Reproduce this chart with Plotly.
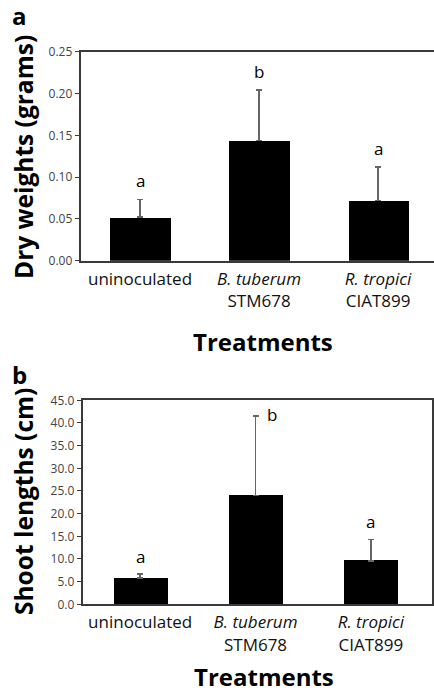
import plotly.graph_objects as go

# ---- data ----
treatments = ["uninoculated", "<i>B. tuberum</i><br>STM678", "<i>R. tropici</i><br>CIAT899"]
dry_weight = [0.052, 0.144, 0.072]
dry_weight_err = [0.021, 0.060, 0.040]
dry_letters = ["a", "b", "a"]
shoot_length = [5.8, 24.0, 9.6]
shoot_length_err = [0.9, 17.5, 4.7]
shoot_letters = ["a", "b", "a"]
dry_ticks = [0.00, 0.05, 0.10, 0.15, 0.20, 0.25]
shoot_ticks = [0, 5, 10, 15, 20, 25, 30, 35, 40, 45]

W, H = 434, 692
FONT = "Open Sans"
AX = "#3a3a3a"

def py(px):
    return 1 - px / H

fig = go.Figure()
fig.add_trace(go.Bar(
    x=treatments, y=dry_weight, width=0.505, marker=dict(color="black", line=dict(width=0)),
    error_y=dict(type="data", array=dry_weight_err, arrayminus=[0] * 3, symmetric=False,
                 color="#666666", thickness=1.5, width=3),
    xaxis="x", yaxis="y", showlegend=False))
fig.add_trace(go.Bar(
    x=treatments, y=shoot_length, width=0.47, marker=dict(color="black", line=dict(width=0)),
    error_y=dict(type="data", array=shoot_length_err, arrayminus=[0] * 3, symmetric=False,
                 color="#666666", thickness=1.5, width=3),
    xaxis="x2", yaxis="y2", showlegend=False))

xcommon = dict(type="category", showline=True, linecolor=AX, linewidth=1.5, ticks="",
               showgrid=False, zeroline=False, automargin=False,
               tickfont=dict(family=FONT, size=17, color="#111"), ticklabelstandoff=2)
ycommon = dict(showline=True, linecolor=AX, linewidth=1.5, ticks="outside", ticklen=4,
               tickcolor=AX, tickwidth=1.2, showgrid=False, zeroline=False, automargin=False,
               tickfont=dict(family=FONT, size=12, color="#444"))

fig.update_layout(
    width=W, height=H, margin=dict(l=0, r=0, t=0, b=0, autoexpand=False),
    paper_bgcolor="white", plot_bgcolor="white", bargap=0,
    xaxis=dict(xcommon, domain=[80.5 / W, 1], range=[-0.5, 2.47], mirror=True, anchor="y"),
    yaxis=dict(ycommon, domain=[py(260.7), py(51.7)], range=[0, 0.25], tickvals=dry_ticks,
               tickformat=".2f", anchor="x"),
    xaxis2=dict(xcommon, domain=[82.5 / W, 432 / W], range=[-0.5, 2.53], mirror=True, anchor="y2"),
    yaxis2=dict(ycommon, domain=[py(604.3), py(400.3)], range=[0, 45], tickvals=shoot_ticks,
                tickformat=".1f", mirror=True, anchor="x2"),
)

ann = []
for cat, v, e, t in zip(treatments, dry_weight, dry_weight_err, dry_letters):
    ann.append(dict(x=cat, y=v + e, xref="x", yref="y", text=t, showarrow=False,
                    yanchor="middle", yshift=19, font=dict(family=FONT, size=17, color="black")))
for i, (cat, v, e, t) in enumerate(zip(treatments, shoot_length, shoot_length_err, shoot_letters)):
    big = e > 10
    ann.append(dict(x=cat, y=v + e, xref="x2", yref="y2", text=t, showarrow=False,
                    yanchor="middle", yshift=2 if big else 17.5, xshift=16 if big else 0,
                    font=dict(family=FONT, size=17, color="black")))

bold = dict(family=FONT, size=24, color="black")
ann += [
    dict(x=19 / W, y=py(15), xref="paper", yref="paper", text="<b>a</b>", showarrow=False,
         font=bold, xanchor="center", yanchor="middle"),
    dict(x=19 / W, y=py(374), xref="paper", yref="paper", text="<b>b</b>", showarrow=False,
         font=bold, xanchor="center", yanchor="middle"),
    dict(x=23 / W, y=py(157), xref="paper", yref="paper", text="<b>Dry weights (grams)</b>",
         showarrow=False, textangle=-90, font=dict(family=FONT, size=24.5, color="black"),
         xanchor="center", yanchor="middle"),
    dict(x=23 / W, y=py(502), xref="paper", yref="paper", text="<b>Shoot lengths (cm)</b>",
         showarrow=False, textangle=-90, font=dict(family=FONT, size=24.5, color="black"),
         xanchor="center", yanchor="middle"),
    dict(x=263 / W, y=py(341), xref="paper", yref="paper", text="<b>Treatments</b>",
         showarrow=False, font=bold, xanchor="center", yanchor="middle"),
    dict(x=264 / W, y=py(676), xref="paper", yref="paper", text="<b>Treatments</b>",
         showarrow=False, font=bold, xanchor="center", yanchor="middle"),
]
fig.update_layout(annotations=ann)

fig.write_html("out.html", config={"displayModeBar": False},
               post_script="document.body.style.margin='0px';")
